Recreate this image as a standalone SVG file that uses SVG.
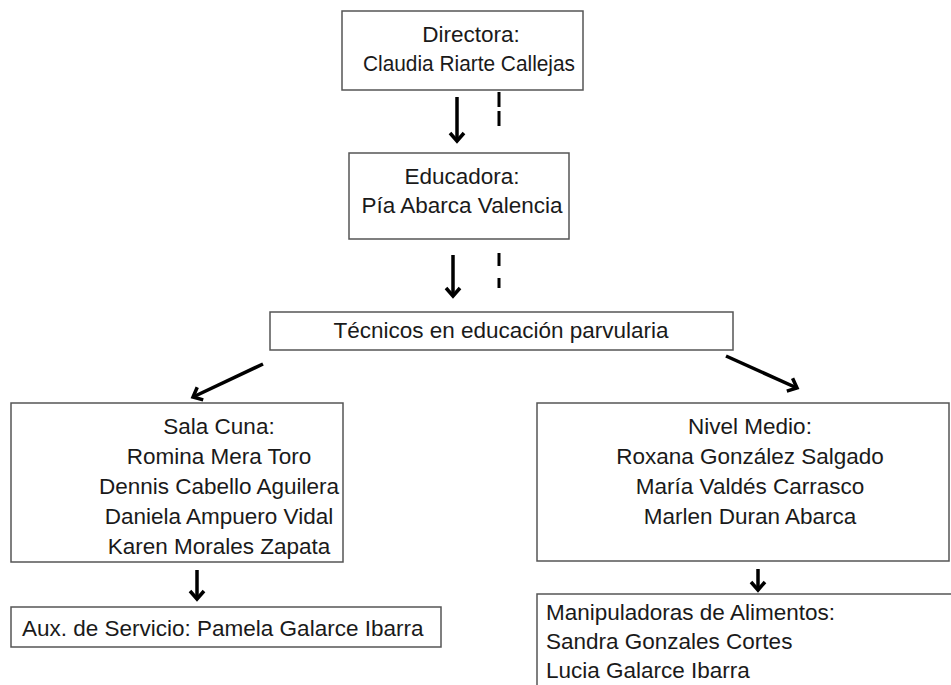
<svg xmlns="http://www.w3.org/2000/svg" width="951" height="685" viewBox="0 0 951 685">
<defs>
<marker id="ah" markerWidth="16" markerHeight="16" refX="0" refY="0" orient="auto" markerUnits="userSpaceOnUse" overflow="visible">
<polyline points="-8,-7 0,0 -8,7" fill="none" stroke="#000" stroke-width="3.5" stroke-linejoin="miter"/>
</marker>
</defs>
<style>
.box{fill:#fff;stroke:#555;stroke-width:1.5}
text{font-family:"Liberation Sans",Arial,sans-serif;font-size:22.5px;fill:#1a1a1a}
.c{text-anchor:middle}
.arr{stroke:#000;stroke-width:3.5;fill:none}
.dash{stroke:#000;stroke-width:3;fill:none}
</style>
<rect width="951" height="685" fill="#fff"/>
<g id="directora">
<rect class="box" x="342" y="11" width="241" height="79"/>
<text class="c" x="471" y="42">Directora:</text>
<text class="c" x="469" y="71" textLength="212" lengthAdjust="spacingAndGlyphs">Claudia Riarte Callejas</text>
</g>
<g id="educadora">
<rect class="box" x="349" y="153" width="220" height="86"/>
<text class="c" x="462" y="184">Educadora:</text>
<text class="c" x="462" y="213">Pía Abarca Valencia</text>
</g>
<g id="tecnicos">
<rect class="box" x="270" y="312" width="463" height="38"/>
<text class="c" x="501" y="338">Técnicos en educación parvularia</text>
</g>
<g id="salacuna">
<rect class="box" x="11" y="403" width="332" height="159"/>
<text class="c" x="219" y="434">Sala Cuna:</text>
<text class="c" x="219" y="464">Romina Mera Toro</text>
<text class="c" x="219" y="494">Dennis Cabello Aguilera</text>
<text class="c" x="219" y="524">Daniela Ampuero Vidal</text>
<text class="c" x="219" y="554">Karen Morales Zapata</text>
</g>
<g id="nivelmedio">
<rect class="box" x="537" y="403" width="412" height="158"/>
<text class="c" x="750" y="434">Nivel Medio:</text>
<text class="c" x="750" y="464">Roxana González Salgado</text>
<text class="c" x="750" y="494">María Valdés Carrasco</text>
<text class="c" x="750" y="524">Marlen Duran Abarca</text>
</g>
<g id="aux">
<rect class="box" x="11" y="607" width="430" height="40"/>
<text x="22" y="636">Aux. de Servicio: Pamela Galarce Ibarra</text>
</g>
<g id="manipuladoras">
<rect class="box" x="537" y="594" width="420" height="100"/>
<text x="546" y="620">Manipuladoras de Alimentos:</text>
<text x="546" y="649">Sandra Gonzales Cortes</text>
<text x="546" y="678">Lucia Galarce Ibarra</text>
</g>
<g id="connectors">
<line class="arr" x1="457" y1="97" x2="457" y2="141" marker-end="url(#ah)"/>
<line class="dash" x1="499" y1="92" x2="499" y2="129" stroke-dasharray="15,4"/>
<line class="arr" x1="453" y1="255" x2="453" y2="296" marker-end="url(#ah)"/>
<line class="dash" x1="499" y1="253" x2="499" y2="288" stroke-dasharray="13,12"/>
<line class="arr" x1="263" y1="364" x2="193" y2="397" marker-end="url(#ah)"/>
<line class="arr" x1="726" y1="356" x2="797" y2="388" marker-end="url(#ah)"/>
<line class="arr" x1="197" y1="570" x2="197" y2="599" marker-end="url(#ah)"/>
<line class="arr" x1="758" y1="569" x2="758" y2="590" marker-end="url(#ah)"/>
</g>
</svg>
